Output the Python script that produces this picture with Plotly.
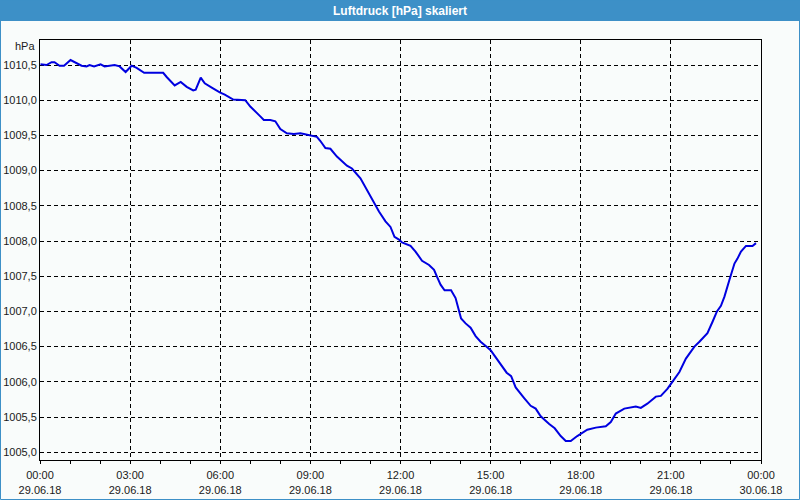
import pandas as pd
import plotly.graph_objects as go

# time in minutes after 29.06.18 00:00
minutes = [1, 13, 23, 29, 39, 48, 61, 69, 83, 93, 99, 108, 121, 129, 139, 149, 159, 171, 183, 193,
           208, 246, 253, 269, 281, 293, 306, 311, 321, 329, 343, 359, 369, 386, 410, 420, 440, 447, 460, 470,
           480, 493, 507, 520, 527, 543, 553, 560, 570, 580, 593, 613, 623, 640, 653, 667, 677, 690, 700, 708,
           717, 723, 740, 750, 763, 777, 787, 793, 800, 808, 821, 830, 837, 841, 850, 860, 870, 880, 892, 900,
           907, 923, 932, 941, 950, 967, 980, 990, 1000, 1017, 1028, 1040, 1050, 1060, 1073, 1093, 1110, 1130, 1140, 1150,
           1167, 1190, 1200, 1213, 1230, 1240, 1253, 1263, 1277, 1290, 1307, 1317, 1333, 1343, 1352, 1360, 1367, 1377, 1387, 1393,
           1400, 1410, 1423, 1430]
pressure = [1010.51, 1010.50, 1010.54, 1010.54, 1010.49, 1010.49, 1010.57, 1010.54, 1010.49, 1010.48, 1010.50, 1010.48, 1010.51, 1010.48, 1010.49, 1010.50, 1010.48, 1010.40, 1010.49, 1010.46,
            1010.39, 1010.39, 1010.33, 1010.21, 1010.26, 1010.19, 1010.14, 1010.15, 1010.32, 1010.24, 1010.18, 1010.11, 1010.08, 1010.01, 1010.00, 1009.91, 1009.77, 1009.72, 1009.72, 1009.70,
            1009.59, 1009.53, 1009.52, 1009.53, 1009.52, 1009.49, 1009.48, 1009.42, 1009.32, 1009.31, 1009.20, 1009.07, 1009.03, 1008.89, 1008.72, 1008.54, 1008.42, 1008.28, 1008.20, 1008.06,
            1008.02, 1007.98, 1007.93, 1007.85, 1007.72, 1007.66, 1007.59, 1007.49, 1007.38, 1007.30, 1007.30, 1007.19, 1007.00, 1006.90, 1006.83, 1006.77, 1006.65, 1006.57, 1006.50, 1006.45,
            1006.38, 1006.21, 1006.13, 1006.08, 1005.92, 1005.77, 1005.66, 1005.62, 1005.51, 1005.40, 1005.34, 1005.23, 1005.16, 1005.16, 1005.23, 1005.32, 1005.35, 1005.37, 1005.43, 1005.55,
            1005.62, 1005.65, 1005.63, 1005.69, 1005.79, 1005.80, 1005.90, 1006.00, 1006.14, 1006.33, 1006.50, 1006.57, 1006.69, 1006.85, 1007.00, 1007.08, 1007.21, 1007.45, 1007.68, 1007.75,
            1007.85, 1007.93, 1007.93, 1007.97]

x_tick_hours = [0, 3, 6, 9, 12, 15, 18, 21, 24]
x_tick_text = ["00:00<br>29.06.18", "03:00<br>29.06.18", "06:00<br>29.06.18", "09:00<br>29.06.18",
               "12:00<br>29.06.18", "15:00<br>29.06.18", "18:00<br>29.06.18", "21:00<br>29.06.18",
               "00:00<br>30.06.18"]
y_ticks = [1005.0, 1005.5, 1006.0, 1006.5, 1007.0, 1007.5, 1008.0, 1008.5, 1009.0, 1009.5, 1010.0, 1010.5]

title_text = "Luftdruck [hPa] skaliert"
unit_text = "hPa"

start = pd.Timestamp("2018-06-29 00:00")
xs = [start + pd.Timedelta(minutes=m) for m in minutes]
xtickvals = [start + pd.Timedelta(hours=h) for h in x_tick_hours]

BG = "#f9fcfb"
BLUE = "#3d90c7"
W, H = 800, 500
L, R, T, B = 40, 39, 40, 40
pw, ph = W - L - R, H - T - B

fig = go.Figure()
fig.add_trace(go.Scatter(x=xs, y=pressure, mode="lines",
                         line=dict(color="#0000e0", width=2), hoverinfo="skip"))

font = dict(family="Liberation Sans, Arial, sans-serif", size=11, color="#1a1a1a")

fig.update_layout(
    width=W, height=H,
    margin=dict(l=L, r=R, t=T, b=B, pad=0, autoexpand=False),
    paper_bgcolor=BG, plot_bgcolor=BG,
    showlegend=False,
    separators=",.",
    font=font,
    xaxis=dict(
        range=[start, start + pd.Timedelta(hours=24)],
        tickvals=xtickvals, ticktext=x_tick_text, automargin=False,
        ticks="outside", ticklen=3, tickcolor="black", tickwidth=1,
        ticklabelstandoff=2,
        showgrid=True, gridcolor="black", gridwidth=1, griddash="4px,3px",
        showline=True, linecolor="black", linewidth=1, mirror=True,
        zeroline=False,
        minor=dict(dtick=3600000, ticks="outside", ticklen=3, tickcolor="black", showgrid=False),
        tickfont=font,
    ),
    yaxis=dict(
        range=[1004.89, 1010.855], automargin=False,
        tickvals=y_ticks, tickformat=".1f",
        ticks="", showgrid=True, gridcolor="black", gridwidth=1, griddash="4px,3px",
        showline=True, linecolor="black", linewidth=1, mirror=True,
        zeroline=False, tickfont=font,
    ),
)

# title bar
fig.add_shape(type="rect", xref="paper", yref="paper",
              x0=-L / pw, x1=1 + R / pw, y0=1 + (T - 21) / ph, y1=1 + T / ph,
              fillcolor=BLUE, line=dict(width=0), layer="above")
# window frame
fig.add_shape(type="rect", xref="paper", yref="paper",
              x0=-(L - 0.5) / pw, x1=1 + (R - 0.5) / pw, y0=-(B - 0.5) / ph, y1=1 + T / ph,
              fillcolor="rgba(0,0,0,0)", line=dict(color=BLUE, width=1), layer="above")

fig.add_annotation(text="<b>" + title_text + "</b>", xref="paper", yref="paper",
                   x=(400 - L) / pw, y=1 + (T - 10.5) / ph, xanchor="center", yanchor="middle",
                   showarrow=False, font=dict(family="Liberation Sans, Arial, sans-serif", size=12, color="white"))
fig.add_annotation(text=unit_text, xref="paper", yref="paper",
                   x=0, y=1 - 6 / ph, xanchor="right", yanchor="middle", xshift=-3,
                   showarrow=False, font=font)

fig.write_html("out.html", config={"displayModeBar": False},
               post_script="document.body.style.margin='0';document.body.style.overflow='hidden';")
